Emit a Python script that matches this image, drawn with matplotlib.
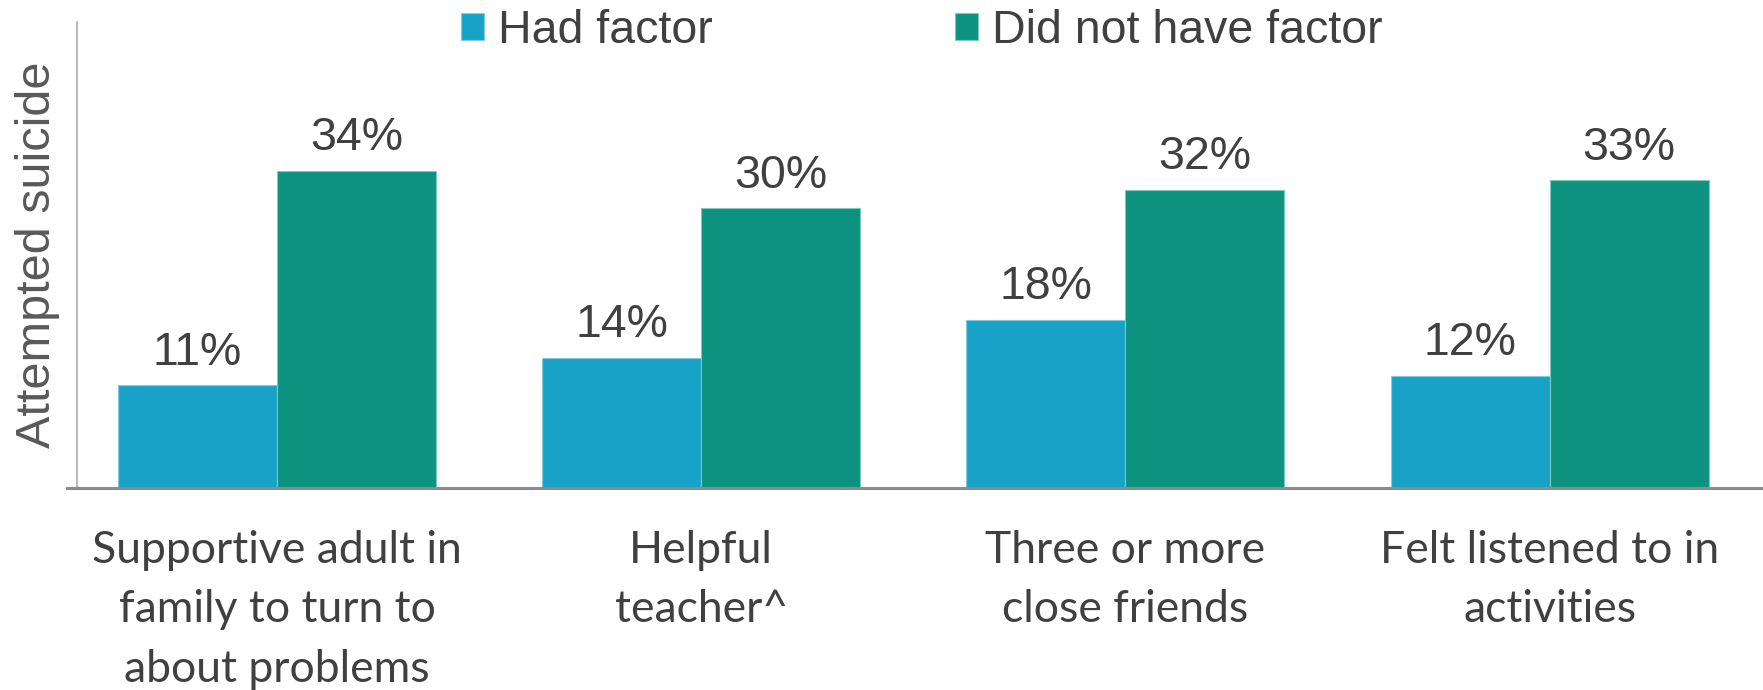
import numpy as np
import matplotlib
matplotlib.use('Agg')
import matplotlib.pyplot as plt

categories = ['Supportive adult in\nfamily to turn to\nabout problems',
              'Helpful\nteacher^',
              'Three or more\nclose friends',
              'Felt listened to in\nactivities']
had_factor = [11, 14, 18, 12]
no_factor = [34, 30, 32, 33]
series_names = ['Had factor', 'Did not have factor']

BLUE = '#18a2c8'
GREEN = '#0c927e'
TEXT = '#404040'

plt.rcParams['font.family'] = ['Liberation Sans', 'DejaVu Sans']

fig = plt.figure(figsize=(17.63, 6.9), dpi=100)
ax = fig.add_axes([77 / 1763, 1 - 488 / 690, 1 - 77 / 1763, 466 / 690])

x = np.arange(len(categories))
w = 0.375
b1 = ax.bar(x - w / 2, had_factor, w, color=BLUE, edgecolor='#7fcfe4',
            linewidth=0.8, label=series_names[0])
b2 = ax.bar(x + w / 2, no_factor, w, color=GREEN, edgecolor='#7fc9bd',
            linewidth=0.8, label=series_names[1])

# percentage labels above each bar
for bars, vals in ((b1, had_factor), (b2, no_factor)):
    for r, v in zip(bars, vals):
        ax.annotate(f'{v}%', (r.get_x() + r.get_width() / 2, v),
                    xytext=(0, 15), textcoords='offset points',
                    ha='center', va='baseline', fontsize=33.5, color=TEXT)

ax.set_xlim(-0.4715, 3.503)
ax.set_ylim(0, 50)
ax.set_yticks([])
ax.set_xticks(x)
ax.set_xticklabels(categories, family='Lato', fontsize=32, color=TEXT,
                   linespacing=1.56)
ax.tick_params(axis='x', length=0, pad=30)

for s in ('top', 'right'):
    ax.spines[s].set_visible(False)
ax.spines['bottom'].set_color('#8c8c8c')
ax.spines['bottom'].set_linewidth(2.2)
ax.spines['bottom'].set_bounds(-0.495, 3.503)
ax.spines['left'].set_color('#a6a6a6')
ax.spines['left'].set_linewidth(1.1)

ax.set_ylabel('Attempted suicide', fontsize=35, color='#595959', labelpad=12)

fig.legend(loc='center', bbox_to_anchor=(921.5 / 1763, 1 - 31 / 690),
           ncol=2, frameon=False, fontsize=33.5, handlelength=0.5,
           handleheight=0.5, handletextpad=0.3, columnspacing=5.2,
           borderpad=0, labelcolor=TEXT)

fig.savefig('out.png', dpi=100)
